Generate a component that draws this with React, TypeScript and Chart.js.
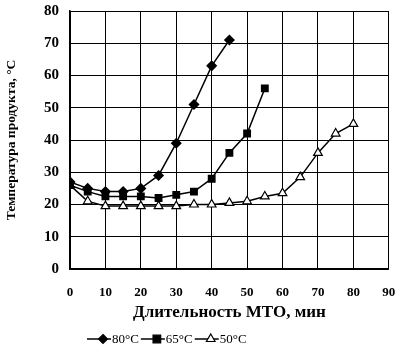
import React, { useEffect, useRef } from "react";
import { Chart, registerables } from "chart.js";

Chart.register(...registerables);

const times = [0, 5, 10, 15, 20, 25, 30, 35, 40, 45, 50, 55, 60, 65, 70, 75, 80];
const series80 = [27, 25, 24, 24, 25, 29, 39, 51, 63, 71];
const series65 = [26, 24, 22.5, 22.5, 22.5, 22, 23, 24, 28, 36, 42, 56];
const series50 = [26, 21, 19.5, 19.5, 19.5, 19.5, 19.5, 20, 20, 20.5, 21, 22.5, 23.5, 28.5, 36, 42, 45];
const seriesLabels = ["80°C", "65°C", "50°C"];
const xTitle = "Длительность МТО, мин";
const yTitle = "Температура продукта, °С";

const FONT = "'Liberation Serif', 'DejaVu Serif', serif";

function drawMarker(ctx: CanvasRenderingContext2D, style: string, cx: number, cy: number, r: number) {
  ctx.beginPath();
  if (style === "rectRot") {
    ctx.moveTo(cx, cy - r);
    ctx.lineTo(cx + r, cy);
    ctx.lineTo(cx, cy + r);
    ctx.lineTo(cx - r, cy);
  } else if (style === "rect") {
    const s = r * 0.85;
    ctx.rect(cx - s, cy - s, 2 * s, 2 * s);
  } else {
    ctx.moveTo(cx, cy - r);
    ctx.lineTo(cx + r * 0.87, cy + r * 0.5);
    ctx.lineTo(cx - r * 0.87, cy + r * 0.5);
  }
  ctx.closePath();
  ctx.fill();
  ctx.stroke();
}

const legendPlugin = {
  id: "lineLegend",
  afterDraw(chart: any) {
    const ctx = chart.ctx;
    const y = 339;
    let x = 87;
    const lineLen = 24;
    ctx.save();
    ctx.font = `13px ${FONT}`;
    ctx.textBaseline = "middle";
    ctx.textAlign = "left";
    chart.data.datasets.forEach((ds: any) => {
      ctx.strokeStyle = "#000";
      ctx.lineWidth = 1.5;
      ctx.beginPath();
      ctx.moveTo(x, y);
      ctx.lineTo(x + lineLen, y);
      ctx.stroke();
      ctx.fillStyle = ds.pointBackgroundColor;
      ctx.lineWidth = 1.2;
      drawMarker(ctx, ds.pointStyle, x + lineLen / 2 + 4, y, ds.pointRadius);
      ctx.fillStyle = "#000";
      ctx.fillText(ds.label, x + lineLen + 1, y + 1);
      const w = ctx.measureText(ds.label).width;
      x += lineLen + 1 + w + 2;
    });
    ctx.restore();
  },
};

export default function App() {
  const ref = useRef<HTMLCanvasElement>(null);

  useEffect(() => {
    if (!ref.current) return;
    const toPts = (vals: number[]) => vals.map((v, i) => ({ x: times[i], y: v }));
    const chart = new Chart(ref.current, {
      type: "line",
      data: {
        datasets: [
          {
            label: seriesLabels[0],
            data: toPts(series80),
            borderColor: "#000",
            borderWidth: 1.5,
            pointStyle: "rectRot",
            pointRadius: 4.5,
            pointBackgroundColor: "#000",
            pointBorderColor: "#000",
            tension: 0,
          },
          {
            label: seriesLabels[1],
            data: toPts(series65),
            borderColor: "#000",
            borderWidth: 1.5,
            pointStyle: "rect",
            pointRadius: 4.5,
            pointBackgroundColor: "#000",
            pointBorderColor: "#000",
            tension: 0,
          },
          {
            label: seriesLabels[2],
            data: toPts(series50),
            borderColor: "#000",
            borderWidth: 1.5,
            pointStyle: "triangle",
            pointRadius: 5,
            pointBackgroundColor: "#fff",
            pointBorderColor: "#000",
            pointBorderWidth: 1.2,
            tension: 0,
          },
        ],
      },
      options: {
        animation: false,
        responsive: false,
        layout: { padding: { left: 0, right: 3, top: 11, bottom: 22 } },
        plugins: {
          legend: { display: false },
          tooltip: { enabled: false },
        },
        scales: {
          x: {
            type: "linear",
            min: 0,
            max: 90,
            ticks: {
              stepSize: 10,
              color: "#000",
              padding: 16,
              font: { family: FONT, size: 13, weight: "bold" },
            },
            grid: { color: "#000", lineWidth: 1, drawTicks: false },
            border: { color: "#000", width: 1.5 },
            title: {
              display: true,
              text: xTitle,
              color: "#000",
              padding: { top: 0, bottom: 6 },
              font: { family: FONT, size: 17, weight: "bold" },
            },
            afterFit: (s: any) => {
              s.height = 60;
              s.paddingLeft = 0;
              s.paddingRight = 0;
            },
          },
          y: {
            min: 0,
            max: 80,
            ticks: {
              stepSize: 10,
              color: "#000",
              padding: 11,
              font: { family: FONT, size: 15, weight: "bold" },
            },
            grid: { color: "#000", lineWidth: 1, drawTicks: false },
            border: { color: "#000", width: 1.5 },
            title: {
              display: true,
              text: yTitle,
              color: "#000",
              padding: { top: 3, bottom: 0 },
              font: { family: FONT, size: 13.5, weight: "bold" },
            },
            afterFit: (s: any) => {
              s.width = 70;
              s.paddingTop = 0;
              s.paddingBottom = 0;
            },
          },
        },
      },
      plugins: [legendPlugin],
    });
    return () => chart.destroy();
  }, []);

  return (
    <div style={{ position: "fixed", left: 0, top: 0, width: 395, height: 351, background: "#fff" }}>
      <canvas ref={ref} width={395} height={351} style={{ width: 395, height: 351, display: "block" }} />
    </div>
  );
}
